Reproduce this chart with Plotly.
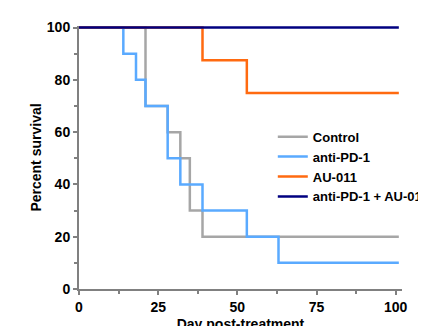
import plotly.graph_objects as go

# Kaplan-Meier step data (day, percent survival)
control_days = [0, 21, 28, 32, 35, 39, 101]
control_surv = [100, 70, 60, 50, 30, 20, 20]

antipd1_days = [0, 14, 18, 21, 28, 32, 39, 53, 63, 101]
antipd1_surv = [100, 90, 80, 70, 50, 40, 30, 20, 10, 10]

au011_days = [0, 39, 53, 101]
au011_surv = [100, 87.5, 75, 75]

combo_days = [0, 101]
combo_surv = [100, 100]

names = ["Control", "anti-PD-1", "AU-011", "anti-PD-1 + AU-011"]
colors = ["#a6a6a6", "#5aaaff", "#ff6a10", "#000080"]

x_ticks = [0, 25, 50, 75, 100]
y_ticks = [0, 20, 40, 60, 80, 100]

FONT = "Arial, Liberation Sans, sans-serif"

fig = go.Figure()
series = [(control_days, control_surv), (antipd1_days, antipd1_surv),
          (au011_days, au011_surv), (combo_days, combo_surv)]
for (d, s), n, c in zip(series, names, colors):
    fig.add_trace(go.Scatter(x=d, y=s, name=n, mode="lines",
                             line=dict(color=c, width=2.5, shape="hv")))

axis_common = dict(
    showgrid=False, zeroline=False, showline=True, linecolor="#808080", linewidth=2,
    ticks="outside", ticklen=4, tickwidth=1.5, tickcolor="#808080", automargin=False,
    tickfont=dict(family=FONT, size=14, color="black", weight="bold"),
)

fig.update_xaxes(range=[0, 102], tickvals=x_ticks, **axis_common,
                 minor=dict(tickvals=[12.5, 37.5, 62.5, 87.5], ticks="outside",
                            ticklen=3, tickcolor="#808080", tickwidth=1.5),
                 title=dict(text="Day post-treatment", standoff=5,
                            font=dict(family=FONT, size=14, color="black", weight="bold")))
fig.update_yaxes(range=[0, 100.6], tickvals=y_ticks, **axis_common,
                 minor=dict(tickvals=[10, 30, 50, 70, 90], ticks="outside",
                            ticklen=3, tickcolor="#808080", tickwidth=1.5),
                 title=dict(text="Percent survival", standoff=2,
                            font=dict(family=FONT, size=14, color="black", weight="bold")))

fig.update_layout(
    width=426, height=326,
    margin=dict(l=71, r=31.5, t=18, b=45, autoexpand=False),
    plot_bgcolor="white", paper_bgcolor="white",
    legend=dict(x=0.6, y=0.636, xanchor="left", yanchor="top",
                bgcolor="rgba(0,0,0,0)", tracegroupgap=0,
                font=dict(family=FONT, size=13, color="black", weight="bold")),
)

fig.write_html("out.html")
